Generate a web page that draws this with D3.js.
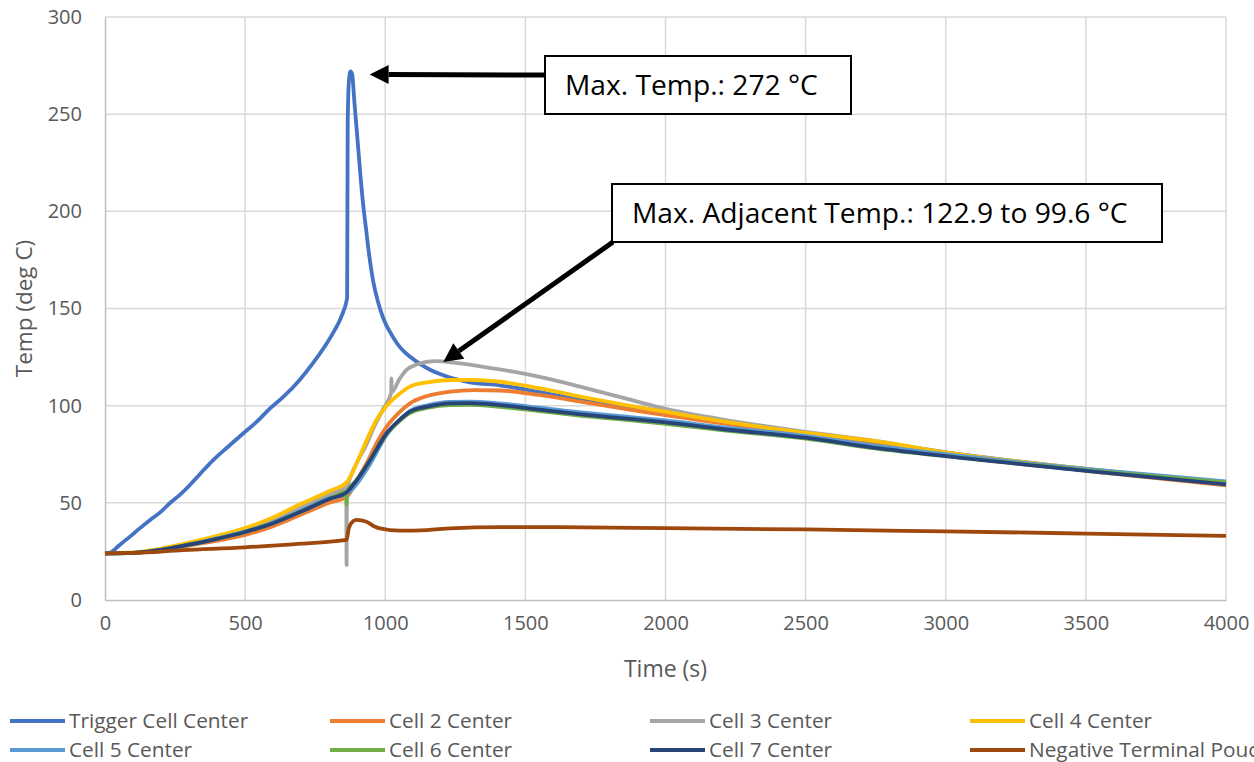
<!DOCTYPE html>
<html>
<head>
<meta charset="utf-8">
<script src="https://cdn.jsdelivr.net/npm/d3@7"></script>
<style>
  html, body { margin: 0; padding: 0; background: #fff; overflow: hidden; }
  svg { display: block; font-family: "Open Sans", "Noto Sans", sans-serif; }
</style>
</head>
<body>
<svg id="chart" width="1254" height="762"></svg>
<script>
// ---------------- DATA ----------------
const seriesNames = ["Trigger Cell Center", "Cell 2 Center", "Cell 3 Center", "Cell 4 Center",
                     "Cell 5 Center", "Cell 6 Center", "Cell 7 Center", "Negative Terminal Pouch"];
const seriesColors = ["#4472C4", "#ED7D31", "#A5A5A5", "#FFC000", "#5B9BD5", "#70AD47", "#264478", "#9E480E"];

const xTicks = [0, 500, 1000, 1500, 2000, 2500, 3000, 3500, 4000];
const yTicks = [0, 50, 100, 150, 200, 250, 300];

// [time (s), temp (deg C)]
const triggerCell = [[0,24],[20,24.5],[50,28],[89,32.6],[125,37],[161,41.2],[200,45.5],[232,49.9],[270,54.5],
  [303,59.2],[340,65],[386,72],[440,79],[494,85.8],[540,91.5],[589,98.6],[640,105],[696,113.5],[740,121.5],
  [791,132],[820,139],[838,144],[852,149],[862,154],[864,156],[866,245],[870,266],[876,272],[882,270.5],
  [890,256],[904,231.6],[918,208],[933,189],[945,175],[957,164],[975,153],[993,145],[1029,135],
  [1053,130],[1090,125],[1124,121.5],[1160,118.5],[1200,116],[1302,112],[1409,110.5],[1550,107],
  [1700,103],[1850,100],[2000,97],[2200,92.5],[2500,85.5],[2765,81],[3000,76],[3500,67.5],[4000,60.5]];

const cell2 = [[0,24],[100,24.2],[200,25.5],[300,28],[400,30.5],[500,33.5],[600,38],[700,44],[800,50],
  [862,53],[900,62],[933,70.3],[970,81],[1005,89.2],[1050,96.5],[1088,101.2],[1150,105],[1231,107.2],
  [1314,108],[1409,107.8],[1550,105.5],[1700,102],[1850,98.5],[1993,95.2],[2200,91],[2500,84.5],
  [2765,79.5],[3000,74.5],[3500,66.5],[4000,59]];

const cell3 = [[0,24],[100,24.3],[200,25.8],[300,28.5],[400,32],[500,36],[600,41],[700,47.5],[800,54],
  [861,57.5],[862,18],[863,57.5],[870,61],[900,71],[933,80],[960,89],[993,98.5],[1021,106.5],[1022,114],
  [1023,107],[1050,113.5],[1076,118.4],[1110,121],[1150,122.6],[1183,122.9],[1250,122],[1350,120],
  [1457,117.5],[1576,114],[1695,109.8],[1850,104],[1993,98.6],[2200,93],[2500,86.5],[2765,81.5],
  [3000,75.5],[3500,67],[4000,60]];

const cell4 = [[0,24],[100,24.5],[200,26.5],[300,29.5],[400,33],[500,37],[600,42.5],[700,49.5],[800,56],
  [862,60.5],[900,71],[933,82],[970,93],[1005,100],[1050,106],[1088,109.8],[1150,112],[1231,113.2],
  [1300,113.3],[1409,112.3],[1550,109],[1695,104.7],[1850,100.5],[1993,97],[2200,92],[2500,86],
  [2765,81.5],[3000,76],[3500,67.5],[4000,60.5]];

const cell5 = [[0,24],[100,24.3],[200,25.8],[300,28.5],[400,31.8],[500,35.3],[600,40],[700,46],[800,52.5],
  [862,54.5],[900,60],[946,70],[1005,85],[1050,92.5],[1088,97.2],[1150,100.2],[1231,102],[1300,102.1],
  [1409,101.2],[1550,99],[1700,96.5],[1850,94.5],[1993,92.5],[2200,89],[2500,84.5],[2765,79],
  [3000,75],[3500,67.5],[4000,61]];

const cell6 = [[0,24],[100,24.3],[200,25.8],[300,28.5],[400,31.5],[500,35],[600,39.5],[700,45.5],[800,52],
  [861,55.5],[862,49],[863,55.5],[900,62],[946,72],[1005,85.5],[1050,92],[1088,96.2],[1150,98.8],
  [1231,100.3],[1300,100.4],[1409,99.4],[1550,97.2],[1700,94.8],[1850,92.8],[1993,90.8],[2200,87.4],
  [2500,83],[2765,77.6],[3000,74],[3500,66.8],[4000,60.5]];

const cell7 = [[0,24],[100,24.3],[200,25.8],[300,28.5],[400,31.5],[500,35],[600,39.5],[700,45.5],[800,52],
  [862,55.5],[900,62],[946,72],[1005,85.8],[1050,92.5],[1088,96.9],[1150,99.5],[1231,101.2],[1300,101.3],
  [1409,100.3],[1550,98],[1700,95.5],[1850,93.5],[1993,91.5],[2200,88],[2500,83.5],[2765,78],
  [3000,74],[3500,66.5],[4000,59.5]];

const negTerminal = [[0,24],[100,24.2],[280,25.7],[500,27.1],[700,29],[862,30.9],[870,37],[885,40.5],
  [898,41.2],[933,40.3],[960,38],[981,36.9],[1053,35.7],[1150,36],[1231,36.9],[1409,37.5],[1600,37.5],
  [2000,37],[2500,36.3],[3000,35.3],[3500,34.2],[4000,33]];

const allSeries = [triggerCell, cell2, cell3, cell4, cell5, cell6, cell7, negTerminal];

const annotations = [
  { text: "Max. Temp.: 272 \u00B0C", at: [880, 272] },
  { text: "Max. Adjacent Temp.: 122.9 to 99.6 \u00B0C", at: [1200, 123] }
];

// ---------------- LAYOUT ----------------
const svg = d3.select("#chart");
const plot = { left: 105, right: 1226, top: 17, bottom: 600 };

const x = d3.scaleLinear().domain([0, 4000]).range([plot.left, plot.right]);
const y = d3.scaleLinear().domain([0, 300]).range([plot.bottom, plot.top]);

// gridlines
const grid = svg.append("g");
grid.selectAll("line.h").data(yTicks.filter(d => d > 0)).join("line")
  .attr("x1", plot.left).attr("x2", plot.right)
  .attr("y1", d => y(d)).attr("y2", d => y(d))
  .attr("stroke", "#d9d9d9").attr("stroke-width", 1.5);
grid.selectAll("line.v").data(xTicks.filter(d => d > 0)).join("line")
  .attr("y1", plot.top).attr("y2", plot.bottom)
  .attr("x1", d => x(d)).attr("x2", d => x(d))
  .attr("stroke", "#d9d9d9").attr("stroke-width", 1.5);

// axes
const xAxis = svg.append("g").attr("transform", `translate(0,${plot.bottom})`)
  .call(d3.axisBottom(x).tickValues(xTicks).tickSize(0).tickPadding(16).tickFormat(d3.format("d")));
const yAxis = svg.append("g").attr("transform", `translate(${plot.left},0)`)
  .call(d3.axisLeft(y).tickValues(yTicks).tickSize(0).tickPadding(23).tickFormat(d3.format("d")));
[xAxis, yAxis].forEach(a => {
  a.select(".domain").attr("stroke", "#bfbfbf").attr("stroke-width", 1.5);
  a.selectAll("text").attr("fill", "#595959").style("font-size", "20px")
    .style("font-family", "'Open Sans', sans-serif");
});

// axis titles
svg.append("text").attr("x", (plot.left + plot.right) / 2).attr("y", 677)
  .attr("text-anchor", "middle").attr("fill", "#595959").style("font-size", "23px").text("Time (s)");
svg.append("text").attr("transform", `translate(32,${(plot.top + plot.bottom) / 2}) rotate(-90)`)
  .attr("text-anchor", "middle").attr("fill", "#595959").style("font-size", "22.5px").text("Temp (deg C)");

// series lines
const line = d3.line().x(d => x(d[0])).y(d => y(d[1])).curve(d3.curveMonotoneX);
svg.append("g").selectAll("path").data(allSeries).join("path")
  .attr("d", line)
  .attr("fill", "none")
  .attr("stroke", (d, i) => seriesColors[i])
  .attr("stroke-width", 3.8)
  .attr("stroke-linejoin", "round");

// annotations: arrows + boxes
const ann = svg.append("g");
function arrow(x1, y1, x2, y2) {
  const ang = Math.atan2(y2 - y1, x2 - x1);
  const len = 19, half = 9.5;
  const bx = x2 - len * Math.cos(ang), by = y2 - len * Math.sin(ang);
  ann.append("line").attr("x1", x1).attr("y1", y1).attr("x2", bx).attr("y2", by)
    .attr("stroke", "#000").attr("stroke-width", 5);
  const px = -Math.sin(ang) * half, py = Math.cos(ang) * half;
  ann.append("path")
    .attr("d", `M${x2},${y2}L${bx + px},${by + py}L${bx - px},${by - py}Z`)
    .attr("fill", "#000");
}
// box 1 arrow -> peak of trigger cell
const b1 = { x: 545, y: 56, w: 306, h: 58 };
arrow(b1.x, 75, x(annotations[0].at[0]) + 18, y(annotations[0].at[1]) + 3);
// box 2 arrow -> peak of cell 3
const b2 = { x: 612, y: 184, w: 550, h: 58 };
arrow(b2.x + 1, b2.y + b2.h, x(annotations[1].at[0]) + 2, y(annotations[1].at[1]) + 1);

[[b1, annotations[0].text], [b2, annotations[1].text]].forEach(([b, t]) => {
  ann.append("rect").attr("x", b.x).attr("y", b.y).attr("width", b.w).attr("height", b.h)
    .attr("fill", "#fff").attr("stroke", "#000").attr("stroke-width", 2);
  ann.append("text").attr("x", b.x + 20).attr("y", b.y + b.h / 2 + 10)
    .attr("fill", "#000").style("font-size", "28.2px").text(t);
});

// legend
const legend = svg.append("g");
seriesNames.forEach((name, i) => {
  const col = i % 4, row = Math.floor(i / 4);
  const lx = 10 + col * 320, ly = 721 + row * 29;
  legend.append("line").attr("x1", lx).attr("x2", lx + 55).attr("y1", ly).attr("y2", ly)
    .attr("stroke", seriesColors[i]).attr("stroke-width", 4);
  legend.append("text").attr("x", lx + 59).attr("y", ly + 7)
    .attr("fill", "#595959").style("font-size", "20.8px").text(name);
});
</script>
</body>
</html>
